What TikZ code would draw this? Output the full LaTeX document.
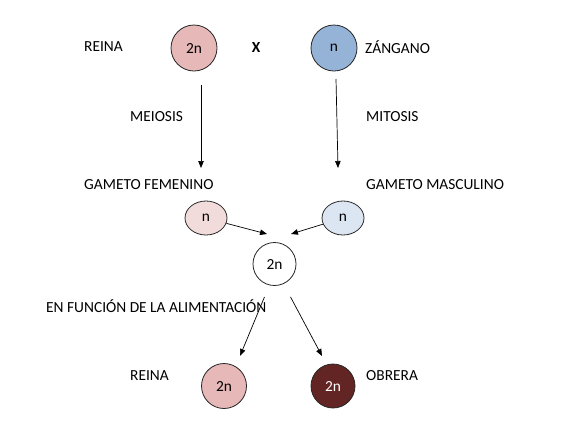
\documentclass[tikz,border=0pt]{standalone}
\usepackage{fontspec}
\setmainfont{Carlito}
\usepackage{tikz}
\usetikzlibrary{positioning, arrows.meta, shapes.geometric}
\definecolor{reinapink}{HTML}{E6B8B7}
\definecolor{zanganoblue}{HTML}{95B3D7}
\definecolor{fempink}{HTML}{F2DCDB}
\definecolor{mascblue}{HTML}{DCE6F2}
\definecolor{obreradark}{HTML}{632523}

\begin{document}
\begin{tikzpicture}[
    x=1pt, y=-1pt,
    cell/.style={draw=black!85, circle, line width=0.8pt, minimum size=46pt,
                 inner sep=0pt, font=\fontsize{15.4}{18}\selectfont},
    gamete/.style={draw=black!85, ellipse, line width=0.8pt, minimum width=42pt,
                   minimum height=34pt, inner sep=0pt, font=\fontsize{15.4}{18}\selectfont},
    label/.style={anchor=west, inner sep=0pt, font=\fontsize{15.4}{18}\selectfont},
    arrow/.style={-{Triangle[length=7pt, width=5.5pt]}, line width=0.7pt}
]
\useasboundingbox (0,0) rectangle (575,437);

% parents
\node[cell, fill=reinapink] (reina) at (194,48) {2n};
\node[font=\fontsize{15.4}{18}\selectfont\bfseries] (cross) at (256,48) {X};
\node[cell, fill=zanganoblue] (zangano) at (334,48) {n};
\node[label] (lreina) at (84,47) {REINA};
\node[label] (lzangano) at (365,47) {ZÁNGANO};

% division
\node[label] (lmeiosis) at (130,117) {MEIOSIS};
\node[label] (lmitosis) at (366,117) {MITOSIS};
\coordinate (meio1) at (201,85);
\coordinate (meio2) at (201,168);
\coordinate (mito1) at (336,79);
\coordinate (mito2) at (338,168);
\draw[arrow] (meio1) -- (meio2);
\draw[arrow] (mito1) -- (mito2);

% gametes
\node[label] (lfem) at (84,185) {GAMETO FEMENINO};
\node[label] (lmasc) at (366,185) {GAMETO MASCULINO};
\node[gamete, fill=fempink] (gfem) at (206,218) {n};
\node[gamete, fill=mascblue] (gmasc) at (343,218) {n};
\coordinate (fus1) at (267,234);
\coordinate (fus2) at (291,234);
\draw[arrow] (gfem) -- (fus1);
\draw[arrow] (gmasc) -- (fus2);

% zygote
\node[cell, fill=white, minimum size=43pt] (zygote) at (274.5,264) {2n};
\node[label] (lalim) at (46,306) {EN FUNCIÓN DE LA ALIMENTACIÓN};
\coordinate (down1) at (240,356);
\coordinate (down2) at (322,356);
\draw[arrow] (zygote.south) ++(-10,11) coordinate (z1) -- (down1);
\draw[arrow] (zygote.south) ++(16,11) coordinate (z2) -- (down2);

% castes
\node[label] (lreina2) at (130,376) {REINA};
\node[label] (lobrera) at (366,376) {OBRERA};
\node[cell, fill=reinapink, minimum size=45pt] (reina2) at (224,386) {2n};
\node[cell, fill=obreradark, text=white, minimum size=44pt] (obrera) at (333,386) {2n};

\end{tikzpicture}
\end{document}
